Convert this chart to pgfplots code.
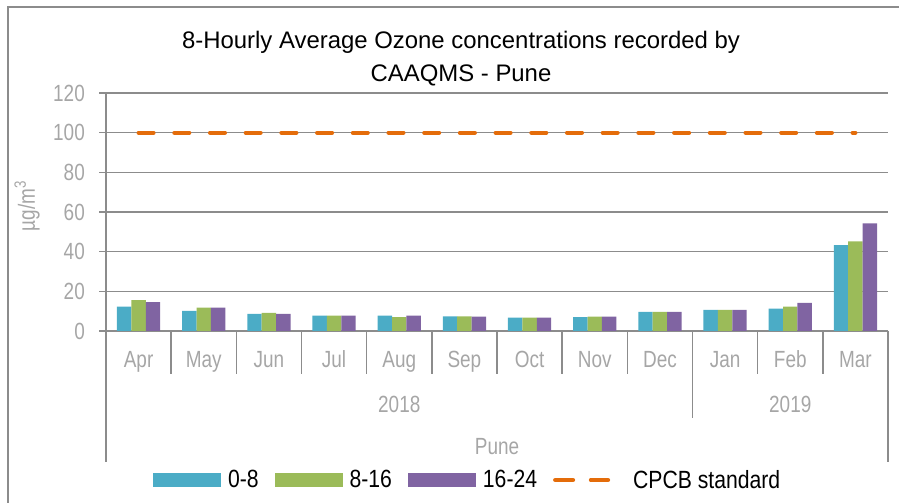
\documentclass[border=0pt]{standalone}
\usepackage{fontspec}
\setmainfont{Liberation Sans}
\newfontfamily\narrowfont{Liberation Sans}[FakeStretch=0.81]
\newfontfamily\legfont{Liberation Sans}[FakeStretch=0.85]
\usepackage{pgfplots}
\usepackage{pgfplotstable}
\pgfplotsset{compat=1.18}
\definecolor{c1}{HTML}{4BACC6}
\definecolor{c2}{HTML}{9BBB59}
\definecolor{c3}{HTML}{8064A2}
\definecolor{cpcb}{HTML}{E46C0A}
\definecolor{axgray}{HTML}{8C8C8C}
\definecolor{txtgray}{HTML}{A6A6A6}
\newcommand{\axfont}{\narrowfont\fontsize{23.5}{23.5}\selectfont}

\pgfplotstableread{
x a b c
0 12.3 15.6 14.6
1 10.2 11.8 11.8
2 8.6 9.1 8.6
3 7.7 7.7 7.7
4 7.7 7.0 7.7
5 7.4 7.4 7.3
6 6.7 6.7 6.7
7 7.0 7.3 7.3
8 9.7 9.7 9.7
9 10.7 10.7 10.7
10 11.3 12.3 14.2
11 43.3 45.2 54.2
}\ozone

\begin{document}
\begin{tikzpicture}[x=1bp,y=1bp]
\useasboundingbox (0,0) rectangle (899,503);
\draw[axgray, line width=1.5bp] (8,0) -- (8,496) -- (899,496);
\node[font=\fontsize{24}{24}\selectfont, anchor=base] at (461,454.7) {8-Hourly Average Ozone concentrations recorded by};
\node[font=\fontsize{24}{24}\selectfont, anchor=base] at (461,421.3) {CAAQMS - Pune};
\node[rotate=90, font=\axfont, text=txtgray] at (27,297) {µg/m\textsuperscript{3}};
\begin{axis}[
  at={(106bp,172bp)}, anchor=south west,
  width=782bp, height=238bp, scale only axis,
  xmin=-0.5, xmax=11.5, ymin=0, ymax=120,
  ytick={0,20,...,120},
  xtick={0,...,11},
  xticklabels={Apr,May,Jun,Jul,Aug,Sep,Oct,Nov,Dec,Jan,Feb,Mar},
  axis lines*=left,
  axis line style={axgray, line width=1.5bp},
  ymajorgrids,
  grid style={axgray, line width=1.2bp},
  tick align=outside,
  major tick length=7bp,
  ytick style={axgray, line width=1.2bp},
  xtick style={draw=none},
  /pgf/number format/assume math mode=true,
  yticklabel style={font=\axfont, text=txtgray, anchor=east, inner sep=0pt, xshift=-14bp},
  xticklabel style={font=\axfont, text=txtgray, anchor=base, inner sep=0pt, yshift=-30bp},
  clip=false,
  legend style={at={(0.0601,-0.626)}, anchor=west, draw=none, fill=none,
    inner sep=0pt, outer sep=0pt, font=\legfont\fontsize{25}{25}\selectfont,
    nodes={inner sep=0pt},
    /tikz/every odd column/.append style={column sep=7bp},
    /tikz/every even column/.append style={column sep=16bp}},
  legend columns=-1,
]
\addplot[ybar, bar width=14.4bp, bar shift=-14.4bp, fill=c1, draw=none,
  legend image code/.code={\fill[c1] (0bp,-7bp) rectangle (68bp,7bp);}]
  table[x=x, y=a] {\ozone};
\addlegendentry{0-8}
\addplot[ybar, bar width=14.4bp, bar shift=0bp, fill=c2, draw=none,
  legend image code/.code={\fill[c2] (0bp,-7bp) rectangle (68bp,7bp);}]
  table[x=x, y=b] {\ozone};
\addlegendentry{8-16}
\addplot[ybar, bar width=14.4bp, bar shift=14.4bp, fill=c3, draw=none,
  legend image code/.code={\fill[c3] (0bp,-7bp) rectangle (68bp,7bp);}]
  table[x=x, y=c] {\ozone};
\addlegendentry{16-24}
\addplot[sharp plot, cpcb, line width=4bp, line cap=round, dash pattern=on 15bp off 20.7bp,
  legend image code/.code={\path (0bp,0bp) -- (69bp,0bp);
    \draw[cpcb, line width=4bp, line cap=round, dash pattern=on 16bp off 19bp] (2bp,0bp) -- (53bp,0bp);}]
  coordinates {(0,100) (11,100)};
\addlegendentry{CPCB standard}
\pgfplotsinvokeforeach{0.5,1.5,2.5,3.5,4.5,5.5,6.5,7.5,9.5,10.5}{
  \draw[axgray, line width=1.5bp] (axis cs:#1,0) -- ++(0bp,-43bp);
}
\draw[axgray, line width=1.5bp] (axis cs:8.5,0) -- ++(0bp,-87bp);
\draw[axgray, line width=1.5bp] (axis cs:-0.5,0) -- ++(0bp,-131bp);
\draw[axgray, line width=1.5bp] (axis cs:11.5,0) -- ++(0bp,-131bp);
\node[anchor=base, font=\axfont, text=txtgray, yshift=-82bp] at (axis cs:4,0) {2018};
\node[anchor=base, font=\axfont, text=txtgray, yshift=-82bp] at (axis cs:10,0) {2019};
\node[anchor=base, font=\axfont, text=txtgray, yshift=-124bp] at (axis cs:5.5,0) {Pune};
\end{axis}
\end{tikzpicture}
\end{document}
